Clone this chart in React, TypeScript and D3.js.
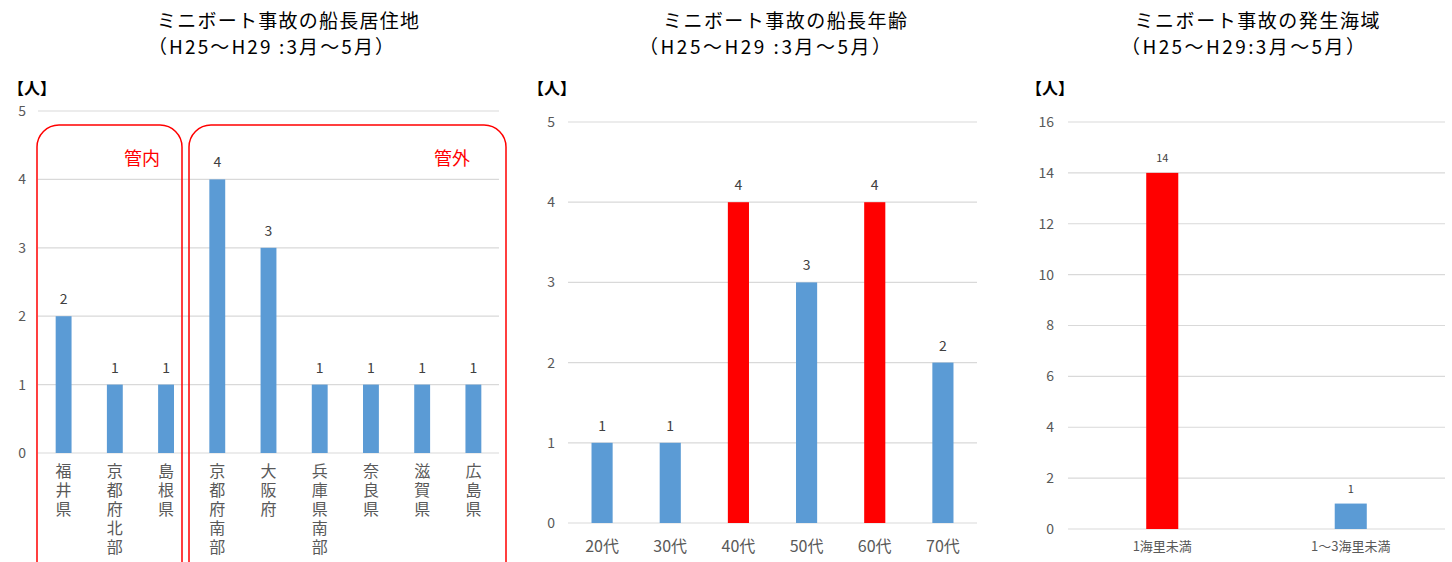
import React from "react";
import * as d3 from "d3";

const FONT = "'Noto Sans CJK JP', 'Noto Sans', sans-serif";
const BLUE = "#5B9BD5";
const RED = "#FF0000";
const GRID = "#D9D9D9";
const TXT = "#595959";

// chart 1: 船長居住地
const residenceCats = ["福井県", "京都府北部", "島根県", "京都府南部", "大阪府", "兵庫県南部", "奈良県", "滋賀県", "広島県"];
const residenceVals = [2, 1, 1, 4, 3, 1, 1, 1, 1];
const residenceTicks = [0, 1, 2, 3, 4, 5];

// chart 2: 船長年齢
const ageCats = ["20代", "30代", "40代", "50代", "60代", "70代"];
const ageVals = [1, 1, 4, 3, 4, 2];
const ageRed = ["40代", "60代"];
const ageTicks = [0, 1, 2, 3, 4, 5];

// chart 3: 発生海域
const seaCats = ["1海里未満", "1～3海里未満"];
const seaVals = [14, 1];
const seaRed = ["1海里未満"];
const seaTicks = [0, 2, 4, 6, 8, 10, 12, 14, 16];

type PanelProps = {
  title: string;
  subtitle: string;
  titleX: number;
  titleW: number;
  subX: number;
  subW: number;
  unitX: number;
  left: number;
  right: number;
  top: number;
  bottom: number;
  cats: string[];
  vals: number[];
  red: string[];
  ticks: number[];
  padding: number;
  tickX: number;
  tickSize: number;
  valSize: number;
  valGap: number;
  catSize: number;
  vertical?: boolean;
  catY: number;
};

function Panel(p: PanelProps) {
  const x = d3.scaleBand<string>().domain(p.cats).range([p.left, p.right]).paddingInner(p.padding).paddingOuter(p.padding / 2);
  const y = d3.scaleLinear().domain([0, d3.max(p.ticks) as number]).range([p.bottom, p.top]);
  return (
    <g fontFamily={FONT}>
      <text x={p.titleX - p.titleW / 2} y={28} textLength={p.titleW} lengthAdjust="spacing" fontSize={19} fill="#000">{p.title}</text>
      <text x={p.subX - p.subW / 2} y={54} textLength={p.subW} lengthAdjust="spacing" fontSize={19} fill="#000">{p.subtitle}</text>
      <text x={p.unitX} y={94} fontSize={16} fontWeight="bold" fill="#000">【人】</text>
      {p.ticks.map((t) => (
        <g key={t}>
          <line x1={p.left} x2={p.right} y1={y(t)} y2={y(t)} stroke={GRID} strokeWidth={1.2} />
          <text x={p.tickX} y={y(t)} dy="0.35em" textAnchor="end" fontSize={p.tickSize} fill={TXT}>{t}</text>
        </g>
      ))}
      {p.cats.map((c, i) => {
        const cx = (x(c) as number) + x.bandwidth() / 2;
        return (
          <g key={c}>
            <rect x={x(c)} y={y(p.vals[i])} width={x.bandwidth()} height={y(0) - y(p.vals[i])} fill={p.red.includes(c) ? RED : BLUE} />
            <text x={cx} y={y(p.vals[i]) - p.valGap} textAnchor="middle" fontSize={p.valSize} fill="#404040">{p.vals[i]}</text>
            {p.vertical ? (
              <text x={cx} y={p.catY} fontSize={p.catSize} fill={TXT} letterSpacing={3} style={{ writingMode: "vertical-rl" }}>{c}</text>
            ) : (
              <text x={cx} y={p.catY} dy="0.35em" textAnchor="middle" fontSize={p.catSize} fill={TXT}>{c}</text>
            )}
          </g>
        );
      })}
    </g>
  );
}

export default function App() {
  return (
    <svg width={1452} height={562} style={{ position: "absolute", left: 0, top: 0, background: "#fff" }}>
      <rect width={1452} height={562} fill="#fff" />
      <Panel
        title="ミニボート事故の船長居住地"
        subtitle="（H25～H29 :3月～5月）"
        titleX={288} titleW={262} subX={271} subW={246} unitX={8}
        left={38} right={499} top={111} bottom={453}
        cats={residenceCats} vals={residenceVals} red={[]} ticks={residenceTicks}
        padding={0.69} tickX={26} tickSize={14} valSize={14} valGap={12} catSize={16}
        vertical catY={463}
      />
      <rect x={37} y={125} width={145} height={460} rx={22} fill="none" stroke={RED} strokeWidth={1.5} />
      <rect x={189} y={125} width={317} height={460} rx={22} fill="none" stroke={RED} strokeWidth={1.5} />
      <text x={142} y={165} textAnchor="middle" fontFamily={FONT} fontSize={18} fill={RED}>管内</text>
      <text x={452} y={165} textAnchor="middle" fontFamily={FONT} fontSize={18} fill={RED}>管外</text>
      <Panel
        title="ミニボート事故の船長年齢"
        subtitle="（H25～H29 :3月～5月）"
        titleX={785} titleW={244} subX={765} subW={252} unitX={528}
        left={568} right={977} top={122} bottom={523}
        cats={ageCats} vals={ageVals} red={ageRed} ticks={ageTicks}
        padding={0.69} tickX={555} tickSize={14} valSize={14} valGap={12} catSize={16}
        catY={546}
      />
      <Panel
        title="ミニボート事故の発生海域"
        subtitle="（H25～H29:3月～5月）"
        titleX={1257} titleW={245} subX={1243} subW={244} unitX={1026}
        left={1068} right={1445} top={122} bottom={529}
        cats={seaCats} vals={seaVals} red={seaRed} ticks={seaTicks}
        padding={0.83} tickX={1054} tickSize={14} valSize={11} valGap={11} catSize={13}
        catY={546}
      />
    </svg>
  );
}
